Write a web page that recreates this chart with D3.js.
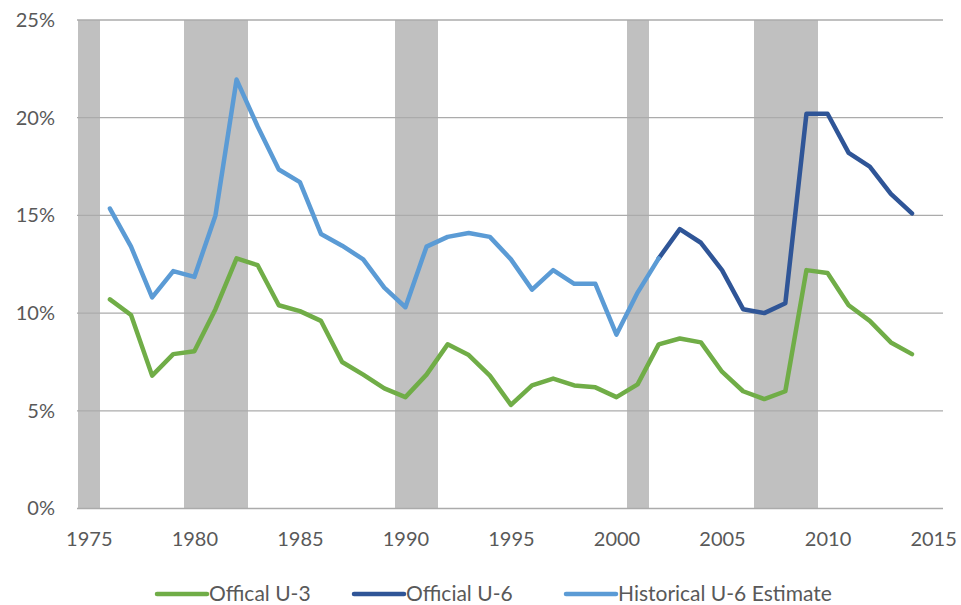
<!DOCTYPE html>
<html><head><meta charset="utf-8">
<script src="https://cdn.jsdelivr.net/npm/d3@7"></script>
<style>body{margin:0;background:#fff;}svg{display:block;font-family:Lato,"Open Sans",sans-serif;}</style>
</head><body><svg id="c" width="961" height="605"></svg>
<script>
const years = d3.range(1976, 2015);
const u3 = [10.7,9.9,6.8,7.9,8.05,10.2,12.8,12.45,10.4,10.1,9.6,7.5,6.85,6.15,5.7,6.85,8.4,7.85,6.8,5.3,6.3,6.65,6.3,6.2,5.7,6.35,8.4,8.7,8.5,7.0,6.0,5.6,6.0,12.2,12.05,10.4,9.6,8.5,7.9];
const histYears = d3.range(1976, 2003);
const histU6 = [15.35,13.4,10.8,12.15,11.85,15.0,21.95,19.55,17.35,16.7,14.05,13.45,12.75,11.3,10.3,13.4,13.9,14.1,13.9,12.75,11.2,12.2,11.5,11.5,8.9,11.05,12.8];
const offYears = d3.range(2002, 2015);
const officialU6 = [12.8,14.3,13.6,12.2,10.2,10.0,10.5,20.2,20.2,18.2,17.5,16.1,15.1];
const recessionYears = [1975,1980,1981,1982,1990,1991,2001,2007,2008,2009];
const yTicks = [0,5,10,15,20,25];
const xTicks = [1975,1980,1985,1990,1995,2000,2005,2010,2015];
const seriesNames = ["Offical U-3","Official U-6","Historical U-6 Estimate"];
const seriesColors = ["#70AD47","#2F5597","#5B9BD5"];

const svg = d3.select("#c");
const L = 77, R = 943, T = 20, B = 508.5;
const x = d3.scaleLinear().domain([1974.44, 2015.47]).range([L, R]);
const y = d3.scaleLinear().domain([0, 25]).range([B, T]);

// recession bands
svg.append("g").attr("shape-rendering", "crispEdges").selectAll("rect").data(recessionYears).join("rect")
  .attr("x", d => Math.max(L, x(d - 0.5)))
  .attr("width", d => x(d + 0.5) - Math.max(L, x(d - 0.5)) + 0.6)
  .attr("y", y(25)).attr("height", y(0) - y(25))
  .attr("fill", "#C0C0C0");

// gridlines
svg.append("g").selectAll("line").data(yTicks).join("line")
  .attr("x1", L).attr("x2", R)
  .attr("y1", d => y(d)).attr("y2", d => y(d))
  .attr("stroke", "#ABABAB").attr("stroke-width", 1.3);

// y labels
const yAxis = d3.axisLeft(y).tickValues(yTicks).tickFormat(d => d + "%").tickSize(0).tickPadding(0);
const gy = svg.append("g").attr("transform", `translate(55,0)`).call(yAxis);
gy.select(".domain").remove();
gy.selectAll("text").attr("font-size", 20).attr("fill", "#595959").attr("font-family", "Lato");

// x labels
const xAxis = d3.axisBottom(x).tickValues(xTicks).tickFormat(d3.format("d")).tickSize(0).tickPadding(0);
const gx = svg.append("g").attr("transform", `translate(0,${B + 23})`).call(xAxis);
gx.select(".domain").remove();
gx.selectAll("text").attr("font-size", 20).attr("fill", "#595959").attr("font-family", "Lato");

const line = d3.line().x(d => x(d[0])).y(d => y(d[1]));
function draw(xs, vs, color) {
  svg.append("path").datum(xs.map((v, i) => [v, vs[i]]))
    .attr("d", line).attr("fill", "none").attr("stroke", color)
    .attr("stroke-width", 4.5).attr("stroke-linejoin", "round").attr("stroke-linecap", "round");
}
draw(years, u3, seriesColors[0]);
draw(offYears, officialU6, seriesColors[1]);
draw(histYears, histU6, seriesColors[2]);

// legend
const legX = [157, 354, 566];
const lg = svg.append("g");
seriesNames.forEach((n, i) => {
  lg.append("line").attr("x1", legX[i]).attr("x2", legX[i] + 50)
    .attr("y1", 594).attr("y2", 594).attr("stroke", seriesColors[i]).attr("stroke-width", 4.5).attr("stroke-linecap", "round");
  lg.append("text").attr("x", legX[i] + 52).attr("y", 594).attr("dy", "0.35em")
    .attr("font-size", 21).attr("fill", "#595959").text(n);
});
</script></body></html>
